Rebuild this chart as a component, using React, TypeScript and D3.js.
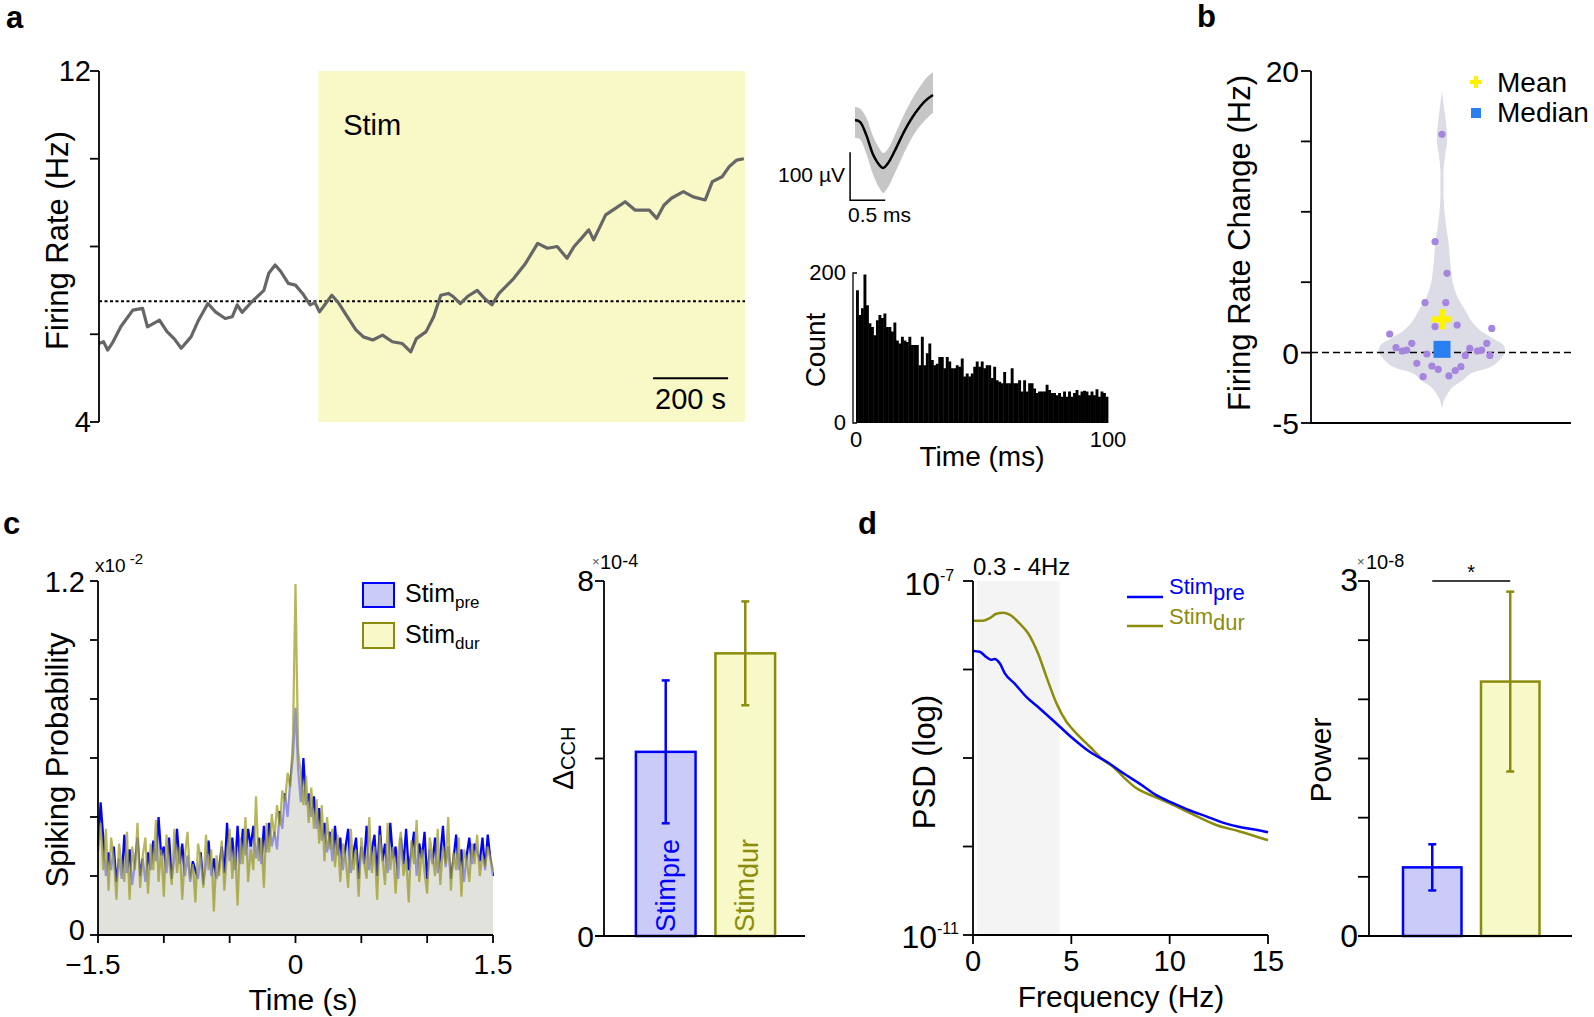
import React from 'react';
import * as d3 from 'd3';

const W = 1594;
const H = 1017;
const FONT = "'Liberation Sans', Arial, Helvetica, sans-serif";

// ---------------- Panel a: firing rate trace ----------------
const rateTime = [0, 12, 23, 35, 58, 90, 116, 129, 161, 181, 200, 219, 245, 265, 290, 310, 336, 355, 368, 381, 407, 439, 452, 469, 484, 504, 523, 542, 562, 575, 587, 620, 639, 658, 684, 704, 729, 755, 781, 807, 830, 845, 871, 891, 910, 930, 943, 962, 981, 1007, 1026, 1046, 1065, 1104, 1136, 1168, 1194, 1220, 1246, 1265, 1285, 1304, 1317, 1349, 1375, 1401, 1427, 1465, 1485, 1504, 1524, 1556, 1582, 1614, 1633, 1659, 1678, 1698, 1717];
const rateHz = [5.79, 5.83, 5.64, 5.79, 6.17, 6.55, 6.59, 6.17, 6.32, 6.06, 5.9, 5.68, 5.94, 6.32, 6.7, 6.51, 6.36, 6.4, 6.67, 6.5, 6.74, 7.0, 7.39, 7.58, 7.43, 7.16, 7.12, 6.93, 6.67, 6.72, 6.51, 6.89, 6.7, 6.44, 6.1, 5.94, 5.87, 5.98, 5.83, 5.79, 5.6, 5.9, 6.06, 6.4, 6.89, 6.93, 6.86, 6.7, 6.86, 7.0, 6.82, 6.67, 6.93, 7.27, 7.62, 8.07, 7.96, 8.0, 7.73, 8.0, 8.19, 8.38, 8.15, 8.72, 8.87, 9.02, 8.83, 8.83, 8.64, 8.94, 9.1, 9.25, 9.13, 9.06, 9.48, 9.59, 9.82, 9.97, 10.0];
const stimStart = 584;
const recordEnd = 1720;
const baselineHz = 6.75;
const rateTicks = [4, 6, 8, 10, 12];
const rateTickLabels = [4, 12];

// waveform inset
const waveT = [0, 0.07, 0.16, 0.26, 0.36, 0.4, 0.47, 0.57, 0.71, 0.86, 1.0, 1.11];
const waveMean = [0, -4, -31, -73, -96, -100, -90, -63, -21, 15, 40, 52];
const waveUpper = [27, 24, 5, -35, -62, -69, -60, -30, 15, 55, 85, 100];
const waveLower = [-37, -40, -70, -115, -145, -152, -140, -110, -65, -25, 0, 15];

// ISI histogram (counts per bin, 0-100 ms)
const isiCounts = [177, 144, 153, 198, 157, 133, 128, 117, 137, 144, 140, 146, 128, 128, 122, 134, 110, 106, 115, 110, 108, 115, 104, 104, 104, 77, 115, 77, 93, 106, 84, 77, 79, 88, 88, 73, 88, 82, 73, 73, 77, 75, 86, 62, 66, 62, 66, 75, 82, 75, 82, 73, 77, 77, 60, 75, 57, 55, 53, 68, 53, 53, 73, 53, 53, 57, 42, 57, 42, 53, 53, 46, 40, 42, 42, 42, 51, 44, 40, 40, 37, 40, 35, 42, 35, 42, 35, 40, 44, 37, 42, 43, 42, 37, 42, 37, 45, 35, 42, 40, 35];

// ---------------- Panel b: violin ----------------
const frcValues = [15.5, 7.88, 5.63, 3.55, 3.55, 1.96, 1.84, 1.72, 1.32, 0.66, 0.66, 0.35, 0.11, 0.18, 0.3, 0.11, 0.18, -0.1, -0.2, -0.2, -0.76, -0.95, -1.19, -1.0, -1.28, -1.71, -1.66];
const frcJitter = [0, -0.11, 0.08, -0.27, 0.06, 0.24, -0.11, 0.79, -0.83, -0.48, 0.71, -0.73, -0.63, -0.56, 0.44, 0.56, 0.63, -0.24, 0.37, 0.76, -0.4, -0.16, -0.06, 0.3, 0.21, -0.3, 0.11];
const violinLevel = [-4.0, -3.4, -3.0, -2.5, -2.0, -1.5, -1.0, -0.5, 0, 0.5, 1.0, 1.5, 2.0, 2.5, 3.0, 3.5, 4, 5, 6, 7, 8, 9, 10, 11, 12, 13, 14, 15, 15.5, 16.5, 17.5, 18.6];
const violinDensity = [0, 0.03, 0.08, 0.16, 0.32, 0.45, 0.78, 0.92, 1.0, 0.98, 0.81, 0.63, 0.51, 0.43, 0.37, 0.3, 0.24, 0.17, 0.14, 0.12, 0.1, 0.065, 0.04, 0.025, 0.025, 0.025, 0.05, 0.08, 0.08, 0.06, 0.03, 0];
const frcMean = 2.36;
const frcMedian = 0.23;
const frcTicks = [-5, 0, 5, 10, 15, 20];
const frcTickLabels = [-5, 0, 20];

// ---------------- Panel c: CCH ----------------
const cchPre = [0.30, 0.45, 0.33, 0.20, 0.28, 0.22, 0.30, 0.18, 0.26, 0.19,
  0.34, 0.21, 0.29, 0.17, 0.24, 0.33, 0.20, 0.26, 0.18, 0.28,
  0.22, 0.32, 0.25, 0.40, 0.27, 0.30, 0.21, 0.33, 0.19, 0.26,
  0.36, 0.24, 0.31, 0.20, 0.27, 0.18, 0.25, 0.22, 0.19, 0.28,
  0.17, 0.24, 0.32, 0.20, 0.26, 0.19, 0.23, 0.30, 0.21, 0.38,
  0.25, 0.33, 0.22, 0.37, 0.24, 0.36, 0.27, 0.36, 0.30, 0.37,
  0.26, 0.33, 0.24, 0.37, 0.28, 0.38, 0.30, 0.35, 0.29, 0.42,
  0.36, 0.48, 0.40, 0.52, 0.60,
  0.77,
  0.56, 0.45, 0.60, 0.44, 0.48,
  0.40, 0.47, 0.36, 0.43, 0.32, 0.38, 0.28, 0.35, 0.25, 0.37,
  0.27, 0.33, 0.22, 0.30, 0.36, 0.21, 0.28, 0.33, 0.19, 0.30,
  0.24, 0.37, 0.22, 0.29, 0.34, 0.20, 0.37, 0.25, 0.31, 0.21,
  0.38, 0.26, 0.30, 0.19, 0.33, 0.24, 0.36, 0.22, 0.28, 0.35,
  0.20, 0.31, 0.26, 0.35, 0.19, 0.29, 0.24, 0.33, 0.21, 0.27,
  0.37, 0.23, 0.30, 0.19, 0.26, 0.34, 0.22, 0.29, 0.18, 0.27,
  0.33, 0.24, 0.31, 0.28, 0.25, 0.33, 0.22, 0.34, 0.26, 0.20];
const cchDur = [0.28, 0.38, 0.22, 0.36, 0.15, 0.33, 0.26, 0.12, 0.31, 0.24,
  0.18, 0.35, 0.12, 0.30, 0.22, 0.38, 0.16, 0.27, 0.33, 0.14,
  0.31, 0.22, 0.39, 0.18, 0.29, 0.13, 0.34, 0.25, 0.17, 0.36,
  0.21, 0.30, 0.12, 0.27, 0.35, 0.19, 0.24, 0.11, 0.31, 0.26,
  0.16, 0.34, 0.22, 0.29, 0.08, 0.27, 0.20, 0.32, 0.15, 0.28,
  0.36, 0.19, 0.30, 0.10, 0.33, 0.24, 0.40, 0.18, 0.29, 0.22,
  0.47, 0.25, 0.33, 0.16, 0.38, 0.28, 0.41, 0.33, 0.44, 0.37,
  0.49, 0.45, 0.55, 0.50, 0.66,
  1.19,
  0.62, 0.55, 0.44, 0.54, 0.38,
  0.50, 0.36, 0.46, 0.31, 0.44, 0.25, 0.40, 0.29, 0.36, 0.23,
  0.34, 0.18, 0.31, 0.26, 0.16, 0.36, 0.22, 0.29, 0.13, 0.33,
  0.25, 0.19, 0.40, 0.21, 0.30, 0.12, 0.34, 0.26, 0.17, 0.38,
  0.22, 0.30, 0.14, 0.28, 0.35, 0.20, 0.26, 0.11, 0.32, 0.24,
  0.39, 0.18, 0.29, 0.21, 0.14, 0.33, 0.27, 0.20, 0.36, 0.17,
  0.30, 0.24, 0.40, 0.15, 0.28, 0.22, 0.33, 0.13, 0.29, 0.25,
  0.18, 0.31, 0.24, 0.34, 0.20, 0.27, 0.23, 0.30, 0.26, 0.22];
const cchTime = d3.range(cchPre.length).map((i) => -1.5 + (3 * i) / (cchPre.length - 1));
const cchYTicks = [0, 0.2, 0.4, 0.6, 0.8, 1.0, 1.2];
const cchXTicks = [-1.5, -1.0, -0.5, 0, 0.5, 1.0, 1.5];
const cchXLabels = [-1.5, 0, 1.5];

const groups = ['pre', 'dur'];
const deltaCCH = [4.15, 6.37];
const deltaCCHErr = [1.61, 1.17];
const deltaTicks = [0, 4, 8];

// ---------------- Panel d: PSD ----------------
const psdFreqPre = [0, 0.34, 0.68, 0.93, 1.1, 1.36, 1.61, 2.12, 2.71, 3.39, 4.24, 5.08, 5.93, 6.78, 7.63, 8.47, 9.32, 10.17, 11.0, 11.86, 12.7, 13.56, 14.4, 15];
const psdLogPre = [-7.79, -7.80, -7.86, -7.89, -7.88, -7.93, -8.04, -8.16, -8.31, -8.44, -8.61, -8.78, -8.93, -9.04, -9.17, -9.29, -9.42, -9.51, -9.59, -9.66, -9.73, -9.78, -9.81, -9.84];
const psdFreqDur = [0, 0.5, 0.85, 1.19, 1.53, 1.86, 2.37, 2.8, 3.31, 3.73, 4.24, 4.75, 5.08, 5.93, 6.61, 7.12, 7.63, 8.3, 9.15, 9.98, 11.2, 12.4, 13.56, 15];
const psdLogDur = [-7.45, -7.45, -7.42, -7.37, -7.36, -7.38, -7.48, -7.59, -7.82, -8.08, -8.38, -8.59, -8.68, -8.87, -9.02, -9.10, -9.21, -9.34, -9.43, -9.51, -9.64, -9.76, -9.83, -9.93];
const deltaBand = [0.2, 4.4];
const psdXTicks = [0, 5, 10, 15];
const psdYTicks = [1e-11, 1e-10, 1e-9, 1e-8, 1e-7];

const power = [0.58, 2.15];
const powerErr = [0.195, 0.76];
const powerTicks = [0, 0.5, 1, 1.5, 2, 2.5, 3];

// ---------------- colours ----------------
const BLUE = '#0000ff';
const OLIVE = '#8c8c0c';
const BLUE_FILL = '#cbcbf7';
const YEL_FILL = '#f7f9c8';

function PanelA() {
  const xA = d3.scaleLinear().domain([0, recordEnd]).range([99, 745]);
  const yA = d3.scaleLinear().domain([4, 12]).range([422, 71]);
  const line = d3.line<number>().x((_, i) => xA(rateTime[i])).y((d) => yA(d));
  return (
    <g>
      <rect x={xA(stimStart)} y={yA(12)} width={xA(recordEnd) - xA(stimStart)} height={yA(4) - yA(12)} fill="#f8f9c6" />
      <text x={xA(650)} y={yA(10.55)} fontSize={29} fontFamily={FONT}>Stim</text>
      <line x1={xA(0)} x2={xA(recordEnd)} y1={yA(baselineHz)} y2={yA(baselineHz)} stroke="#000" strokeWidth={2} strokeDasharray="3,2.5" />
      <path d={line(rateHz) || ''} fill="none" stroke="#666" strokeWidth={3.2} strokeLinejoin="round" />
      <line x1={xA(0)} x2={xA(0)} y1={yA(4)} y2={yA(12)} stroke="#000" strokeWidth={1.8} />
      {rateTicks.map((t) => (
        <line key={t} x1={xA(0) - 9} x2={xA(0)} y1={yA(t)} y2={yA(t)} stroke="#000" strokeWidth={1.8} />
      ))}
      {rateTickLabels.map((t) => (
        <text key={t} x={xA(0) - 8} y={yA(t) + 10} fontSize={29} textAnchor="end" fontFamily={FONT}>{t}</text>
      ))}
      <text transform={`translate(68,${(yA(4) + yA(12)) / 2 - 6}) rotate(-90)`} fontSize={31} textAnchor="middle" fontFamily={FONT}>Firing Rate (Hz)</text>
      <line x1={xA(1475)} x2={xA(1675)} y1={yA(5.0)} y2={yA(5.0)} stroke="#000" strokeWidth={2} />
      <text x={(xA(1475) + xA(1675)) / 2} y={yA(4.3)} fontSize={29} textAnchor="middle" fontFamily={FONT}>200 s</text>
    </g>
  );
}

function PanelAInsets() {
  const xW = d3.scaleLinear().domain([0, 1.11]).range([855, 933]);
  const yW = d3.scaleLinear().domain([0, -100]).range([120, 168]);
  const env = d3.area<number>().x((_, i) => xW(waveT[i])).y0((_, i) => yW(waveLower[i])).y1((d) => yW(d)).curve(d3.curveCatmullRom);
  const mean = d3.line<number>().x((_, i) => xW(waveT[i])).y((d) => yW(d)).curve(d3.curveCatmullRom);

  const xH = d3.scaleLinear().domain([0, 100]).range([856, 1108]);
  const yH = d3.scaleLinear().domain([0, 200]).range([423, 273]);
  const bw = 100 / isiCounts.length;
  return (
    <g fontFamily={FONT}>
      <path d={env(waveUpper) || ''} fill="#c6c6c6" />
      <path d={mean(waveMean) || ''} fill="none" stroke="#000" strokeWidth={2.5} />
      <path d={`M${xW(-0.07)},${yW(-67)}V${yW(-167)}H${xW(0.43)}`} fill="none" stroke="#000" strokeWidth={1.5} />
      <text x={845} y={182} fontSize={21} textAnchor="end">100 µV</text>
      <text x={848} y={222} fontSize={21}>0.5 ms</text>

      {isiCounts.map((c, i) => (
        <rect key={i} x={xH(i * bw)} y={yH(c)} width={xH(bw) - xH(0) + 0.4} height={yH(0) - yH(c)} fill="#000" />
      ))}
      <path d={`M${xH(0) + 1},${yH(200)}H${xH(0) - 3}V${yH(0)}H${xH(0) + 1}`} fill="none" stroke="#000" strokeWidth={1.3} />
      <text x={846} y={280} fontSize={22} textAnchor="end">200</text>
      <text x={846} y={430} fontSize={22} textAnchor="end">0</text>
      <text x={xH(0)} y={447} fontSize={22} textAnchor="middle">0</text>
      <text x={xH(100)} y={447} fontSize={22} textAnchor="middle">100</text>
      <text x={982} y={466} fontSize={28} textAnchor="middle">Time (ms)</text>
      <text transform="translate(825,350) rotate(-90)" fontSize={28} textAnchor="middle">Count</text>
    </g>
  );
}

function Cross({ cx, cy, size, arm, fill }: { cx: number; cy: number; size: number; arm: number; fill: string }) {
  return (
    <g fill={fill}>
      <rect x={cx - size / 2} y={cy - arm / 2} width={size} height={arm} />
      <rect x={cx - arm / 2} y={cy - size / 2} width={arm} height={size} />
    </g>
  );
}

function PanelB() {
  const yB = d3.scaleLinear().domain([-5, 20]).range([423, 71]);
  const cx = 1442;
  const xJ = d3.scaleLinear().domain([-1, 1]).range([cx - 63, cx + 63]);
  const wB = d3.scaleLinear().domain([0, 1]).range([0, 63]);
  const area = d3.area<number>()
    .y((d) => yB(d))
    .x0((_, i) => cx - wB(violinDensity[i]))
    .x1((_, i) => cx + wB(violinDensity[i]))
    .curve(d3.curveCatmullRom);
  const ax = 1311;
  return (
    <g fontFamily={FONT}>
      <path d={area(violinLevel) || ''} fill="#dcdce6" />
      <line x1={ax} x2={1571} y1={yB(0)} y2={yB(0)} stroke="#000" strokeWidth={1.5} strokeDasharray="7,4" />
      {frcValues.map((v, i) => (
        <circle key={i} cx={xJ(frcJitter[i])} cy={yB(v)} r={3.6} fill="#a585dd" />
      ))}
      <Cross cx={cx} cy={yB(frcMean)} size={20} arm={6} fill="#fff200" />
      <rect x={cx - 8.5} y={yB(frcMedian) - 8.5} width={17} height={17} fill="#2a7ff0" />
      <line x1={ax} x2={ax} y1={yB(-5)} y2={yB(20)} stroke="#000" strokeWidth={1.8} />
      <line x1={ax} x2={1571} y1={yB(-5)} y2={yB(-5)} stroke="#000" strokeWidth={1.8} />
      {frcTicks.map((t) => (
        <line key={t} x1={ax - 10} x2={ax} y1={yB(t)} y2={yB(t)} stroke="#000" strokeWidth={1.8} />
      ))}
      {frcTickLabels.map((t) => (
        <text key={t} x={ax - 12} y={yB(t) + 11} fontSize={30} textAnchor="end">{t}</text>
      ))}
      <text transform={`translate(1250,243) rotate(-90)`} fontSize={31} textAnchor="middle">Firing Rate Change (Hz)</text>
      <Cross cx={1476} cy={82} size={12} arm={4} fill="#fff200" />
      <text x={1497} y={92} fontSize={28}>Mean</text>
      <rect x={1471} y={108} width={10} height={10} fill="#2a7ff0" />
      <text x={1497} y={122} fontSize={28}>Median</text>
    </g>
  );
}

function PanelC() {
  const xC = d3.scaleLinear().domain([-1.5, 1.5]).range([98, 493]);
  const yC = d3.scaleLinear().domain([0, 1.2]).range([935, 581]);
  const area = d3.area<number>().x((_, i) => xC(cchTime[i])).y0(yC(0)).y1((d) => yC(d));
  const line = d3.line<number>().x((_, i) => xC(cchTime[i])).y((d) => yC(d));
  return (
    <g fontFamily={FONT}>
      <path d={area(cchPre) || ''} fill="#c6c6f4" />
      <path d={line(cchPre) || ''} fill="none" stroke={BLUE} strokeWidth={2.2} />
      <path d={area(cchDur) || ''} fill="#f5f5cc" fillOpacity={0.6} />
      <path d={line(cchDur) || ''} fill="none" stroke="#9b9b22" strokeOpacity={0.72} strokeWidth={2.2} />
      <line x1={xC(-1.5)} x2={xC(-1.5)} y1={yC(0)} y2={yC(1.2)} stroke="#000" strokeWidth={1.8} />
      <line x1={xC(-1.5)} x2={xC(1.5)} y1={yC(0)} y2={yC(0)} stroke="#000" strokeWidth={1.8} />
      {cchYTicks.map((t) => (
        <line key={t} x1={xC(-1.5) - 8} x2={xC(-1.5)} y1={yC(t)} y2={yC(t)} stroke="#000" strokeWidth={1.8} />
      ))}
      {cchXTicks.map((t) => (
        <line key={t} x1={xC(t)} x2={xC(t)} y1={yC(0)} y2={yC(0) + 8} stroke="#000" strokeWidth={1.8} />
      ))}
      <text x={85} y={592} fontSize={29} textAnchor="end">1.2</text>
      <text x={85} y={940} fontSize={29} textAnchor="end">0</text>
      {cchXLabels.map((t) => (
        <text key={t} x={xC(t) - (t < 0 ? 5 : 0)} y={974} fontSize={28} textAnchor="middle">{t < 0 ? `\u2212${Math.abs(t)}` : `${t}`}</text>
      ))}
      <text x={95} y={572} fontSize={19}>x10<tspan dy={-8} fontSize={15}> -2</tspan></text>
      <text x={303} y={1010} fontSize={30} textAnchor="middle">Time (s)</text>
      <text transform="translate(68,760) rotate(-90)" fontSize={31} textAnchor="middle">Spiking Probability</text>
      <rect x={363} y={583} width={31} height={24} fill={BLUE_FILL} stroke={BLUE} strokeWidth={2} />
      <rect x={363} y={623} width={31} height={25} fill={YEL_FILL} stroke={OLIVE} strokeWidth={2} />
      <text x={405} y={602} fontSize={25}>Stim<tspan dy={6} fontSize={17}>pre</tspan></text>
      <text x={405} y={643} fontSize={25}>Stim<tspan dy={6} fontSize={17}>dur</tspan></text>
    </g>
  );
}

function PanelCBar() {
  const y = d3.scaleLinear().domain([0, 8]).range([936, 581]);
  const x = d3.scaleBand<string>().domain(groups).range([616, 795]).paddingInner(0.25).paddingOuter(0.25);
  const strokes = [BLUE, OLIVE];
  const fills = [BLUE_FILL, YEL_FILL];
  const ax = 604;
  return (
    <g fontFamily={FONT}>
      {groups.map((g, i) => {
        const x0 = x(g) as number;
        const cx = x0 + x.bandwidth() / 2;
        return (
          <g key={g}>
            <rect x={x0} y={y(deltaCCH[i])} width={x.bandwidth()} height={y(0) - y(deltaCCH[i])} fill={fills[i]} stroke={strokes[i]} strokeWidth={2.5} />
            <line x1={cx} x2={cx} y1={y(deltaCCH[i] + deltaCCHErr[i])} y2={y(deltaCCH[i] - deltaCCHErr[i])} stroke={strokes[i]} strokeWidth={2.5} />
            <line x1={cx - 4} x2={cx + 4} y1={y(deltaCCH[i] + deltaCCHErr[i])} y2={y(deltaCCH[i] + deltaCCHErr[i])} stroke={strokes[i]} strokeWidth={2.5} />
            <line x1={cx - 4} x2={cx + 4} y1={y(deltaCCH[i] - deltaCCHErr[i])} y2={y(deltaCCH[i] - deltaCCHErr[i])} stroke={strokes[i]} strokeWidth={2.5} />
            <text transform={`translate(${cx + 9},${y(0) - 4}) rotate(-90)`} fontSize={27} fill={strokes[i]}>Stim<tspan dy={4}>{g}</tspan></text>
          </g>
        );
      })}
      <line x1={ax} x2={ax} y1={y(0)} y2={y(8)} stroke="#000" strokeWidth={1.8} />
      <line x1={ax - 9} x2={805} y1={y(0)} y2={y(0)} stroke="#000" strokeWidth={1.8} />
      {deltaTicks.map((t) => (
        <line key={t} x1={ax - 9} x2={ax} y1={y(t)} y2={y(t)} stroke="#000" strokeWidth={1.8} />
      ))}
      <text x={594} y={y(8) + 10} fontSize={30} textAnchor="end">8</text>
      <text x={594} y={y(0) + 11} fontSize={30} textAnchor="end">0</text>
      <text x={592} y={566} fontSize={13} fill="#555">×</text>
      <text x={600} y={569} fontSize={20}>10<tspan dy={-2} fontSize={18}>-4</tspan></text>
      <text transform="translate(573,790) rotate(-90)" fontSize={30}>Δ<tspan dy={2} fontSize={20}>CCH</tspan></text>
    </g>
  );
}

function PanelD() {
  const xD = d3.scaleLinear().domain([0, 15]).range([973, 1268]);
  const yD = d3.scaleLog().domain([1e-11, 1e-7]).range([935, 581]);
  const linePre = d3.line<number>().x((_, i) => xD(psdFreqPre[i])).y((d) => yD(Math.pow(10, d))).curve(d3.curveMonotoneX);
  const lineDur = d3.line<number>().x((_, i) => xD(psdFreqDur[i])).y((d) => yD(Math.pow(10, d))).curve(d3.curveMonotoneX);
  const ax = xD(0);
  return (
    <g fontFamily={FONT}>
      <rect x={xD(deltaBand[0])} y={yD(1e-7)} width={xD(deltaBand[1]) - xD(deltaBand[0])} height={yD(1e-11) - yD(1e-7)} fill="#f4f4f4" />
      <path d={lineDur(psdLogDur) || ''} fill="none" stroke={OLIVE} strokeWidth={2.5} />
      <path d={linePre(psdLogPre) || ''} fill="none" stroke={BLUE} strokeWidth={2.5} />
      <line x1={ax} x2={ax} y1={yD(1e-11)} y2={yD(1e-7)} stroke="#000" strokeWidth={1.8} />
      <line x1={ax} x2={xD(15)} y1={yD(1e-11)} y2={yD(1e-11)} stroke="#000" strokeWidth={1.8} />
      {psdYTicks.map((t) => (
        <line key={t} x1={ax - 10} x2={ax} y1={yD(t)} y2={yD(t)} stroke="#000" strokeWidth={1.8} />
      ))}
      {psdXTicks.map((t) => (
        <g key={t}>
          <line x1={xD(t)} x2={xD(t)} y1={yD(1e-11)} y2={yD(1e-11) + 9} stroke="#000" strokeWidth={1.8} />
          <text x={xD(t)} y={971} fontSize={29} textAnchor="middle">{t}</text>
        </g>
      ))}
      <text x={940} y={595} fontSize={32} textAnchor="end">10</text>
      <text x={940} y={581} fontSize={16}>-7</text>
      <text x={937} y={948} fontSize={32} textAnchor="end">10</text>
      <text x={937} y={934} fontSize={16}>-11</text>
      <text x={973} y={575} fontSize={24}>0.3 - 4Hz</text>
      <text x={1121} y={1007} fontSize={30} textAnchor="middle">Frequency (Hz)</text>
      <text transform="translate(935,762) rotate(-90)" fontSize={31} textAnchor="middle">PSD (log)</text>
      <line x1={1127} x2={1163} y1={597} y2={597} stroke={BLUE} strokeWidth={2.5} />
      <line x1={1127} x2={1163} y1={626} y2={626} stroke={OLIVE} strokeWidth={2.5} />
      <text x={1169} y={594} fontSize={22} fill={BLUE}>Stim<tspan dy={6}>pre</tspan></text>
      <text x={1169} y={624} fontSize={22} fill={OLIVE}>Stim<tspan dy={6}>dur</tspan></text>
    </g>
  );
}

function PanelDBar() {
  const y = d3.scaleLinear().domain([0, 3]).range([936, 581]);
  const x = d3.scaleBand<string>().domain(groups).range([1383.5, 1559]).paddingInner(0.25).paddingOuter(0.25);
  const strokes = [BLUE, OLIVE];
  const fills = [BLUE_FILL, YEL_FILL];
  const ax = 1369;
  const c0 = (x('pre') as number) + x.bandwidth() / 2;
  const c1 = (x('dur') as number) + x.bandwidth() / 2;
  return (
    <g fontFamily={FONT}>
      {groups.map((g, i) => {
        const x0 = x(g) as number;
        const cx = x0 + x.bandwidth() / 2;
        return (
          <g key={g}>
            <rect x={x0} y={y(power[i])} width={x.bandwidth()} height={y(0) - y(power[i])} fill={fills[i]} stroke={strokes[i]} strokeWidth={2.5} />
            <line x1={cx} x2={cx} y1={y(power[i] + powerErr[i])} y2={y(power[i] - powerErr[i])} stroke={strokes[i]} strokeWidth={2.5} />
            <line x1={cx - 4} x2={cx + 4} y1={y(power[i] + powerErr[i])} y2={y(power[i] + powerErr[i])} stroke={strokes[i]} strokeWidth={2.5} />
            <line x1={cx - 4} x2={cx + 4} y1={y(power[i] - powerErr[i])} y2={y(power[i] - powerErr[i])} stroke={strokes[i]} strokeWidth={2.5} />
          </g>
        );
      })}
      <line x1={c0} x2={c1} y1={y(3)} y2={y(3)} stroke="#000" strokeWidth={1.5} />
      <text x={(c0 + c1) / 2} y={y(3) - 2} fontSize={20} textAnchor="middle">*</text>
      <line x1={ax} x2={ax} y1={y(0)} y2={y(3)} stroke="#000" strokeWidth={1.8} />
      <line x1={ax - 11} x2={1572} y1={y(0)} y2={y(0)} stroke="#000" strokeWidth={1.8} />
      {powerTicks.map((t) => (
        <line key={t} x1={ax - 11} x2={ax} y1={y(t)} y2={y(t)} stroke="#000" strokeWidth={1.8} />
      ))}
      <text x={1358} y={y(3) + 10} fontSize={32} textAnchor="end">3</text>
      <text x={1358} y={y(0) + 11} fontSize={32} textAnchor="end">0</text>
      <text x={1357} y={566} fontSize={13} fill="#555">×</text>
      <text x={1366} y={569} fontSize={20}>10<tspan dy={-2} fontSize={18}>-8</tspan></text>
      <text transform="translate(1331,760) rotate(-90)" fontSize={30} textAnchor="middle">Power</text>
    </g>
  );
}

export default function App() {
  return (
    <svg width={W} height={H} viewBox={`0 0 ${W} ${H}`} style={{ position: 'fixed', left: 0, top: 0, background: '#fff' }} xmlns="http://www.w3.org/2000/svg">
      <rect x={0} y={0} width={W} height={H} fill="#fff" />
      <g fontFamily={FONT} fontWeight="bold" fontSize={31}>
        <text x={6} y={28}>a</text>
        <text x={1197} y={27}>b</text>
        <text x={3} y={534}>c</text>
        <text x={858} y={534}>d</text>
      </g>
      <PanelA />
      <PanelAInsets />
      <PanelB />
      <PanelC />
      <PanelCBar />
      <PanelD />
      <PanelDBar />
    </svg>
  );
}
